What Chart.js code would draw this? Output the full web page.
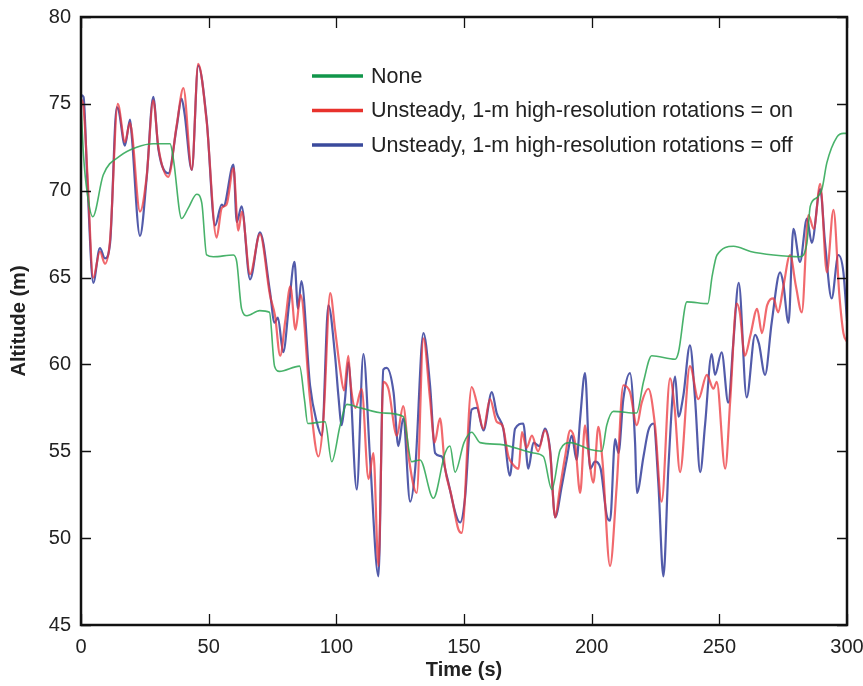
<!DOCTYPE html>
<html>
<head>
<meta charset="utf-8">
<script src="https://cdn.jsdelivr.net/npm/chart.js@4.4.1/dist/chart.umd.min.js"></script>
<style>
  body { margin: 0; background: #fff; }
  #wrap { width: 863px; height: 686px; position: relative; }
</style>
</head>
<body>
<div id="wrap"><canvas id="altChart"></canvas></div>
<script>
// Time ticks / altitude ticks
const xTicks = [0, 50, 100, 150, 200, 250, 300];
const yTicks = [45, 50, 55, 60, 65, 70, 75, 80];

// None (green)
const noneTime = [0, 1, 2.5, 4.6, 8.7, 15.3, 21.8, 28.3, 34.9, 36.2, 39.4, 42, 45.3, 47.3, 49.2, 51.8, 59.7, 61, 62.9, 65, 70, 73.8, 75.8, 77.7, 85.6, 87.5, 88.8, 95.6, 98.2, 101.5, 104.1, 109.4, 118.4, 126.2, 129.5, 132.8, 138, 142.6, 144.5, 146.5, 150, 153, 156.3, 164.1, 177.2, 181.1, 184.4, 187.7, 191.6, 199.4, 204, 205.9, 208.5, 217.6, 220.3, 223.5, 232.7, 234, 237.3, 245.5, 247.2, 249.1, 255.6, 262.2, 271.2, 281.6, 284.3, 285.6, 288.2, 290.2, 292.1, 296.1, 298.6, 300];
const noneAlt = [75.0, 72.0, 69.8, 68.5, 70.9, 72.0, 72.5, 72.7, 72.7, 71.8, 68.4, 69.0, 69.8, 69.3, 66.3, 66.2, 66.3, 65.9, 63.2, 62.8, 63.1, 63.0, 59.9, 59.6, 59.9, 58.0, 56.6, 56.7, 54.4, 56.5, 57.7, 57.5, 57.2, 57.0, 54.4, 54.5, 52.3, 54.9, 55.3, 53.8, 55.5, 56.1, 55.5, 55.4, 54.9, 54.7, 52.8, 55.1, 55.5, 55.1, 55.0, 56.5, 57.3, 57.2, 59.0, 60.5, 60.3, 60.7, 63.6, 63.5, 65.1, 66.3, 66.8, 66.5, 66.3, 66.2, 67.0, 69.1, 69.6, 70.1, 71.6, 73.1, 73.3, 73.3];

// Unsteady, rotations on (red)
const onTime = [0, 1, 2.5, 4.8, 7.4, 9.4, 11.4, 14.4, 17.2, 19.2, 20, 23.1, 25.7, 28.3, 30.3, 34.2, 37.5, 40.1, 43.4, 45.9, 49.2, 53.1, 55.1, 57, 59.7, 61.6, 63, 66.2, 70.1, 74, 76, 78, 80, 82, 84, 86, 89.7, 93, 95, 97.6, 99.5, 101.5, 103, 104.7, 105.5, 107.5, 109.9, 112.6, 114.5, 116.5, 118.4, 120.4, 123.7, 126.2, 128.5, 131.5, 134.1, 136.7, 138.5, 140.6, 142.6, 145, 147.8, 149.1, 153, 155, 157.6, 160.2, 162.8, 165, 167.4, 169.4, 171.4, 172.7, 174.5, 176.6, 179, 181.7, 183.7, 185.7, 187.5, 189.6, 191.6, 193.5, 195.5, 197.4, 198.5, 200.7, 202.6, 204.2, 207.2, 209.8, 212.4, 215, 217.7, 219.6, 222.2, 224.8, 227.4, 230.7, 232.5, 234.6, 238.5, 241.8, 245.1, 247.7, 249, 252.3, 254.3, 256.8, 258, 260, 262.2, 264.8, 266.7, 268.7, 271.2, 273, 275.1, 277.7, 280, 282.3, 284.9, 287, 289.5, 292.1, 294.7, 297, 298.6, 300];
const onAlt = [75.3, 74.8, 71.0, 65.0, 66.5, 65.8, 67.2, 75.0, 72.8, 73.9, 73.3, 68.8, 70.8, 75.2, 72.5, 70.8, 73.8, 75.9, 71.2, 77.3, 74.0, 67.3, 69.0, 69.2, 71.3, 67.7, 68.8, 65.2, 67.5, 64.0, 62.8, 60.5, 62.5, 64.5, 62.0, 64.0, 58.0, 54.7, 57.0, 64.1, 62.0, 59.7, 58.5, 60.5, 59.0, 57.5, 58.6, 53.4, 54.9, 48.4, 59.0, 58.6, 55.9, 57.6, 54.5, 52.6, 61.5, 58.0, 55.5, 56.9, 54.0, 52.5, 50.5, 50.3, 58.7, 57.8, 56.3, 58.0, 56.7, 56.5, 54.7, 54.2, 54.0, 56.1, 55.2, 55.9, 55.0, 56.2, 55.0, 51.2, 52.8, 54.7, 56.2, 55.5, 52.6, 56.5, 55.2, 53.2, 56.4, 54.5, 48.4, 53.0, 58.8, 58.4, 56.5, 57.8, 58.6, 56.5, 52.1, 59.2, 57.5, 53.8, 59.9, 58.0, 59.4, 58.6, 59.0, 54.0, 58.0, 63.5, 63.0, 60.5, 61.7, 63.2, 61.8, 63.4, 63.8, 63.0, 64.5, 66.3, 64.5, 63.0, 68.6, 67.8, 70.4, 65.3, 68.9, 64.0, 61.8, 61.3];

// Unsteady, rotations off (blue)
const offTime = [0, 1, 2.5, 4.8, 7.4, 9.4, 11.4, 14, 14.8, 17.2, 19.2, 19.8, 23.1, 25.7, 28.3, 30.3, 34.2, 37.5, 39.4, 40.5, 43.4, 45.9, 49.2, 52.5, 55.1, 55.8, 59.7, 61, 62.9, 66.2, 70.1, 74, 75.8, 77.1, 79.2, 81.5, 83.6, 85, 86.3, 89.7, 92.3, 94.3, 96.9, 99.5, 100.8, 102.1, 103.4, 104.7, 108, 110.6, 113.2, 116.5, 118.4, 119.7, 122.4, 124.3, 126.2, 128.9, 130.9, 134.1, 136.7, 138.7, 141.3, 143.2, 148.5, 150.4, 153, 155, 157.6, 160.9, 162.8, 165.4, 168, 170, 173.2, 175.2, 177.2, 179.5, 181.7, 183.7, 185.7, 188.3, 190.2, 192.2, 194.1, 195.5, 197.4, 199.4, 201.3, 203.5, 205.9, 207.2, 209.2, 210.5, 212.4, 215, 217, 217.7, 220.3, 222.2, 224.2, 226.1, 228.1, 230.1, 232.7, 234, 235.9, 238.5, 240.5, 242.5, 244.4, 247, 248.3, 250.9, 253.5, 255.5, 257.6, 260.7, 264, 265.5, 267.9, 270.5, 273.8, 275, 277.1, 279, 281.6, 284.3, 286.2, 289.5, 291.4, 294, 296.6, 298.6, 300];
const offAlt = [75.5, 75.4, 70.5, 64.7, 66.7, 66.1, 67.0, 74.8, 74.6, 72.6, 74.1, 73.3, 67.4, 70.7, 75.4, 72.4, 71.0, 73.7, 75.3, 74.5, 71.2, 77.2, 74.1, 68.0, 69.2, 69.1, 71.5, 68.2, 69.1, 64.9, 67.6, 64.2, 62.4, 62.7, 60.7, 63.5, 65.9, 63.2, 64.8, 58.8, 56.7, 55.9, 63.4, 60.5, 58.2, 56.5, 58.0, 60.1, 52.8, 60.6, 54.6, 47.8, 59.7, 59.8, 58.4, 55.3, 56.9, 52.1, 54.0, 61.8, 58.8, 54.9, 54.7, 53.6, 50.9, 52.3, 57.4, 57.5, 56.2, 58.4, 57.2, 56.3, 53.6, 56.3, 56.6, 54.0, 55.5, 55.3, 56.3, 55.1, 51.2, 53.0, 54.5, 55.9, 54.5, 56.9, 59.5, 54.0, 54.4, 54.0, 51.3, 51.0, 55.7, 54.9, 58.0, 59.5, 55.5, 52.6, 54.7, 56.2, 56.6, 53.2, 47.8, 54.2, 59.3, 57.0, 58.2, 61.1, 58.0, 53.8, 56.5, 60.6, 59.4, 60.7, 57.8, 61.3, 64.7, 58.1, 61.7, 61.2, 59.4, 62.4, 65.3, 64.7, 62.4, 67.8, 65.9, 68.4, 67.0, 70.1, 67.0, 63.8, 66.3, 65.3, 62.5];

const seriesLabels = ['None', 'Unsteady, 1-m high-resolution rotations = on', 'Unsteady, 1-m high-resolution rotations = off'];

function toPoints(times, alts) {
  return times.map((t, i) => ({ x: t, y: alts[i] }));
}

const legendColors = ['#11964a', '#e8322c', '#3a4a9c'];

// Box frame, inward ticks and the in-plot legend
const framePlugin = {
  id: 'frame',
  afterDatasetsDraw(chart) {
    const { ctx, chartArea: a, scales } = chart;
    ctx.save();
    ctx.strokeStyle = '#111';
    ctx.lineWidth = 1.3;
    ctx.beginPath();
    xTicks.forEach(v => {
      const px = Math.round(scales.x.getPixelForValue(v)) + 0.5;
      ctx.moveTo(px, a.bottom); ctx.lineTo(px, a.bottom - 11);
      ctx.moveTo(px, a.top); ctx.lineTo(px, a.top + 11);
    });
    yTicks.forEach(v => {
      const py = Math.round(scales.y.getPixelForValue(v)) + 0.5;
      ctx.moveTo(a.left, py); ctx.lineTo(a.left + 10, py);
      ctx.moveTo(a.right, py); ctx.lineTo(a.right - 10, py);
    });
    ctx.stroke();
    ctx.lineWidth = 2.5;
    ctx.strokeRect(a.left, a.top, a.right - a.left, a.bottom - a.top);

    // legend
    ctx.font = '21.5px "Liberation Sans", Arial, sans-serif';
    ctx.textBaseline = 'middle';
    ctx.fillStyle = '#222';
    const lx = a.left + 231, ly = a.top + 59, gap = 34.5;
    seriesLabels.forEach((label, i) => {
      const y = ly + i * gap;
      ctx.strokeStyle = legendColors[i];
      ctx.lineWidth = 3.5;
      ctx.beginPath();
      ctx.moveTo(lx, y); ctx.lineTo(lx + 51, y);
      ctx.stroke();
      ctx.fillText(label, lx + 59, y + 1);
    });
    ctx.restore();
  }
};

// drop the label overhang Chart.js reserves, layout padding sets the frame instead
function noOverhang(s) {
  s.paddingTop = 0;
  s.paddingRight = 0;
  s.paddingLeft = 0;
  s.paddingBottom = 0;
}

const ctx = document.getElementById('altChart').getContext('2d');
new Chart(ctx, {
  type: 'line',
  data: {
    datasets: [
      {
        label: seriesLabels[0],
        data: toPoints(noneTime, noneAlt),
        borderColor: 'rgba(40, 165, 80, 0.85)',
        borderWidth: 1.6,
        pointRadius: 0,
        cubicInterpolationMode: 'monotone'
      },
      {
        label: seriesLabels[1],
        data: toPoints(onTime, onAlt),
        borderColor: 'rgba(236, 55, 60, 0.75)',
        borderWidth: 2.2,
        pointRadius: 0,
        cubicInterpolationMode: 'monotone'
      },
      {
        label: seriesLabels[2],
        data: toPoints(offTime, offAlt),
        borderColor: 'rgba(52, 62, 155, 0.85)',
        borderWidth: 2.2,
        pointRadius: 0,
        cubicInterpolationMode: 'monotone'
      }
    ]
  },
  options: {
    responsive: true,
    maintainAspectRatio: false,
    animation: false,
    layout: { padding: { top: 17, right: 16, left: 0, bottom: 0 } },
    plugins: {
      legend: { display: false },
      tooltip: { enabled: false }
    },
    scales: {
      x: {
        type: 'linear',
        min: 0,
        max: 300,
        afterFit: s => { s.height = 61; noOverhang(s); },
        afterBuildTicks: s => { s.ticks = xTicks.map(v => ({ value: v })); },
        grid: { display: false, drawTicks: false },
        border: { display: false },
        ticks: {
          color: '#222',
          padding: 10,
          maxRotation: 0,
          font: { family: '"Liberation Sans", Arial, sans-serif', size: 20 }
        },
        title: {
          display: true,
          text: 'Time (s)',
          color: '#222',
          padding: { top: 0, bottom: 4 },
          font: { family: '"Liberation Sans", Arial, sans-serif', size: 20, weight: 'bold' }
        }
      },
      y: {
        min: 45,
        max: 80,
        afterFit: s => { s.width = 81; noOverhang(s); },
        afterBuildTicks: s => { s.ticks = yTicks.map(v => ({ value: v })); },
        grid: { display: false, drawTicks: false },
        border: { display: false },
        ticks: {
          color: '#222',
          padding: 10,
          font: { family: '"Liberation Sans", Arial, sans-serif', size: 20 }
        },
        title: {
          display: true,
          text: 'Altitude (m)',
          color: '#222',
          padding: { top: 7, bottom: 0 },
          font: { family: '"Liberation Sans", Arial, sans-serif', size: 20, weight: 'bold' }
        }
      }
    }
  },
  plugins: [framePlugin]
});
</script>
</body>
</html>
